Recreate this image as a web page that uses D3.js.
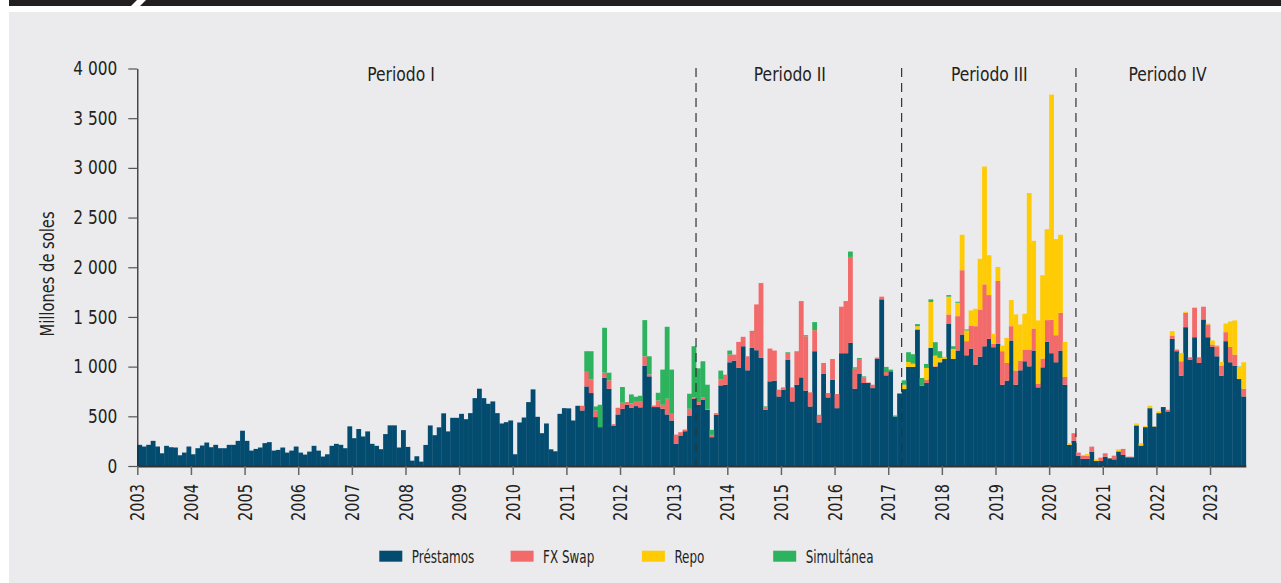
<!DOCTYPE html>
<html lang="es">
<head>
<meta charset="UTF-8">
<title>Operaciones de liquidez</title>
<script src="https://d3js.org/d3.v7.min.js"></script>
<style>
  body { margin: 0; background: #fff; }
  text { font-family: "Liberation Sans Narrow", "DejaVu Sans Condensed", "Roboto", sans-serif; fill: #231f20; }
</style>
</head>
<body>
<div id="chart"></div>
<script>
// monthly values, Jan 2003 - Aug 2023 (millones de soles)
var years = d3.range(2003, 2024);

var prestamos = [
  213,196,213,253,196,128,203,189,186,108,135,196,   // 2003
  118,179,206,236,189,213,179,179,213,213,253,355,   // 2004
  253,155,172,186,230,240,155,162,186,135,155,196,   // 2005
  135,115,145,203,155,95,118,203,223,213,179,399,    // 2006
  280,372,297,348,223,203,169,321,409,409,186,361,   // 2007
  192,54,98,44,212,408,310,389,530,348,485,485,      // 2008
  525,471,532,683,778,683,626,650,532,428,441,458,   // 2009
  118,438,488,643,771,495,330,428,168,148,525,582,   // 2010
  580,458,606,559,801,734,492,391,889,778,407,519,   // 2011
  576,616,586,603,590,1007,902,593,593,576,519,458,  // 2012
  222,307,350,508,677,616,665,566,290,515,811,818,   // 2013
  1044,1061,987,1205,963,1188,1165,1088,566,852,859,700, // 2014
  768,1071,650,818,892,758,599,1155,438,926,690,869, // 2015
  582,1135,1135,1239,778,926,835,835,784,1081,1677,912, // 2016
  953,498,727,774,997,997,1374,808,835,1189,997,1044, // 2017
  1077,1434,1077,1162,1323,1114,1182,1020,1100,1205,1279,1195, // 2018
  1229,818,859,1263,818,963,1054,1003,1162,791,993,1249, // 2019
  1135,1044,1162,818,212,253,104,71,71,145,50,50,    // 2020
  94,77,67,145,111,88,88,404,205,391,582,397,        // 2021
  532,593,549,1279,1155,909,1397,1071,1296,1037,1475,1296, // 2022
  1199,1104,909,1256,1044,1010,875,700               // 2023
];

var fxSwap = [
  0,0,0,0,0,0,0,0,0,0,0,0,  0,0,0,0,0,0,0,0,0,0,0,0,
  0,0,0,0,0,0,0,0,0,0,0,0,  0,0,0,0,0,0,0,0,0,0,0,0,
  0,0,0,0,0,0,0,0,0,0,0,0,  0,0,0,0,0,0,0,0,0,0,0,0,
  0,0,0,0,0,0,0,0,0,0,0,0,  0,0,0,0,0,0,0,0,0,0,0,0,   // 2003-2010
  0,0,0,47,155,138,67,0,50,84,14,67,                    // 2011
  60,27,44,43,63,97,21,16,67,40,158,67,                 // 2012
  94,33,17,68,13,27,25,6,23,17,58,101,                  // 2013
  77,60,262,95,141,162,461,747,27,330,303,68,           // 2014
  23,67,141,337,768,548,142,212,67,111,44,208,          // 2015
  142,468,525,865,202,151,57,5,34,10,27,34,             // 2016
  0,0,0,0,0,0,0,0,34,0,7,0,                             // 2017
  0,91,0,346,647,142,232,387,470,623,441,34,            // 2018
  633,337,178,144,142,98,118,169,222,37,88,219,         // 2019
  336,272,380,78,0,77,31,33,33,50,0,34,                 // 2020
  34,3,37,7,61,6,6,10,0,0,0,0,                          // 2021
  0,0,17,34,17,145,145,23,297,57,128,128,               // 2022
  23,101,101,91,155,111,0,78                            // 2023
];

var repo = [
  0,0,0,0,0,0,0,0,0,0,0,0,  0,0,0,0,0,0,0,0,0,0,0,0,
  0,0,0,0,0,0,0,0,0,0,0,0,  0,0,0,0,0,0,0,0,0,0,0,0,
  0,0,0,0,0,0,0,0,0,0,0,0,  0,0,0,0,0,0,0,0,0,0,0,0,
  0,0,0,0,0,0,0,0,0,0,0,0,  0,0,0,0,0,0,0,0,0,0,0,0,   // 2003-2010
  0,0,0,0,0,0,0,0,0,0,0,0,  0,0,0,0,0,0,0,0,0,0,0,0,
  0,0,0,0,0,0,0,0,0,0,0,0,  0,0,0,0,0,0,0,0,0,0,0,0,
  0,0,0,0,0,0,0,0,0,0,0,0,  0,0,0,0,0,0,0,0,0,0,0,0,   // 2011-2016
  0,0,0,44,50,33,33,0,118,461,107,44,                   // 2017
  21,179,101,135,357,108,152,175,515,1185,401,101,      // 2018
  141,57,253,263,565,363,360,1575,882,637,838,916,      // 2019
  2266,967,785,353,17,0,0,7,17,0,17,0,                  // 2020
  0,0,0,16,0,0,0,14,24,10,24,3,                         // 2021
  17,0,0,44,0,84,10,0,0,0,0,10,                         // 2022
  41,11,37,87,249,344,122,266                           // 2023
];

var simultanea = [
  0,0,0,0,0,0,0,0,0,0,0,0,  0,0,0,0,0,0,0,0,0,0,0,0,
  0,0,0,0,0,0,0,0,0,0,0,0,  0,0,0,0,0,0,0,0,0,0,0,0,
  0,0,0,0,0,0,0,0,0,0,0,0,  0,0,0,0,0,0,0,0,0,0,0,0,
  0,0,0,0,0,0,0,0,0,0,0,0,  0,0,0,0,0,0,0,0,0,0,0,0,   // 2003-2010
  0,0,0,0,199,283,40,225,452,77,0,0,                    // 2011
  159,0,90,51,54,364,181,0,77,354,724,445,              // 2012
  0,0,0,151,515,340,364,246,51,0,91,0,                  // 2013
  41,0,0,0,0,10,0,7,7,0,0,0,                            // 2014
  0,7,0,0,0,10,0,81,10,0,0,0,                           // 2015
  0,0,0,54,13,10,10,0,0,0,0,51,                         // 2016
  17,10,7,44,98,95,21,78,40,27,135,67,                  // 2017
  0,16,27,10,0,10,0,0,0,0,0,0,                          // 2018
  0,0,0,0,0,0,0,0,0,0,0,0,  0,0,0,0,0,0,0,0,0,0,0,0,
  0,0,0,0,0,0,0,0,0,0,0,0,  0,0,0,0,0,0,0,0,0,0,0,0,   // 2019-2022
  0,0,0,0,3,0,3,0                                       // 2023
];

var seriesNames = ["Préstamos", "FX Swap", "Repo", "Simultánea"];
var seriesColors = ["#034b6f", "#f26b6a", "#ffcb05", "#2db35e"];
var yTicks = [0, 500, 1000, 1500, 2000, 2500, 3000, 3500, 4000];

// periods: start month index, end month index, label position (month index)
var periods = [
  {name: "Periodo I",   start: 0,   end: 125, labelAt: 59},
  {name: "Periodo II",  start: 125, end: 171, labelAt: 146},
  {name: "Periodo III", start: 171, end: 210, labelAt: 190.6},
  {name: "Periodo IV",  start: 210, end: 248, labelAt: 230.5}
];

var n = prestamos.length;
var keys = ["p", "f", "r", "s"];
var table = d3.range(n).map(function(i) {
  return {i: i, p: prestamos[i], f: fxSwap[i], r: repo[i], s: simultanea[i]};
});

// the original uses a condensed face; squeeze the installed one to match
function condense(sel, f) {
  sel.each(function() {
    var len = this.getComputedTextLength();
    this.setAttribute("textLength", (len * f).toFixed(1));
    this.setAttribute("lengthAdjust", "spacingAndGlyphs");
  });
}

var W = 1281, H = 583;
var svg = d3.select("#chart").append("svg")
    .attr("width", W)
    .attr("height", H);

// frame
svg.append("rect").attr("x", 9).attr("y", 0).attr("width", W - 9).attr("height", 6).attr("fill", "#231f20");
svg.append("polygon").attr("points", "137,0 146,0 140,6 131,6").attr("fill", "#fff");
svg.append("rect").attr("x", 9).attr("y", 12).attr("width", W - 9).attr("height", H - 12).attr("fill", "#ebebee");

var x = d3.scaleBand()
    .domain(d3.range(n))
    .range([137.3, 1245.8])
    .padding(0);

var xi = d3.scaleLinear()
    .domain([0, n])
    .range([137.3, 1245.8]);

var y = d3.scaleLinear()
    .domain([0, 4000])
    .range([466, 68.5]);

//bars
var stacked = d3.stack().keys(keys)(table);

svg.append("g")
  .selectAll("g")
  .data(stacked)
  .enter()
  .append("g")
    .attr("fill", function(d, k) { return seriesColors[k]; })
  .selectAll("rect")
  .data(function(d) { return d; })
  .enter()
  .append("rect")
    .attr("x", function(d) { return x(d.data.i); })
    .attr("y", function(d) { return y(d[1]); })
    .attr("width", x.bandwidth() + 0.35)
    .attr("height", function(d) { return Math.max(0, y(d[0]) - y(d[1])); });

//y axis
var yAxis = svg.append("g")
    .attr("transform", "translate(137.3,0)")
    .call(d3.axisLeft(y)
      .tickValues(yTicks)
      .tickSize(9)
      .tickSizeOuter(0)
      .tickPadding(11)
      .tickFormat(function(d) { return d3.format(",")(d).replace(",", " "); }));
yAxis.select(".domain").attr("stroke", "#231f20").attr("stroke-width", 1.2);
yAxis.selectAll(".tick line").attr("stroke", "#555").attr("stroke-width", 1.2);
yAxis.selectAll("text").style("font-size", "19px").attr("fill", "#231f20");
condense(yAxis.selectAll("text"), 0.9);

//x axis
var xAxis = svg.append("g")
    .attr("transform", "translate(0,466)")
    .call(d3.axisBottom(xi)
      .tickValues(years.map(function(yr, k) { return k * 12; }))
      .tickSize(9)
      .tickSizeOuter(0)
      .tickFormat(function(d) { return years[d / 12]; }));
xAxis.select(".domain").attr("stroke", "#333").attr("stroke-width", 1.8);
xAxis.selectAll(".tick line").attr("stroke", "#666").attr("stroke-width", 1.5);
xAxis.selectAll("text")
    .style("font-size", "19px")
    .attr("fill", "#231f20")
    .attr("text-anchor", "end")
    .attr("transform", "translate(0,18) rotate(-90)")
    .attr("x", 0)
    .attr("y", 0)
    .attr("dy", "0.35em");
condense(xAxis.selectAll("text"), 0.85);

// periods
svg.append("g")
  .selectAll("line")
  .data(periods.slice(1))
  .enter()
  .append("line")
    .attr("x1", function(d) { return xi(d.start); })
    .attr("x2", function(d) { return xi(d.start); })
    .attr("y1", 68)
    .attr("y2", 466)
    .attr("stroke", "#333")
    .attr("stroke-width", 1.2)
    .attr("stroke-dasharray", "9,6");

var periodText = svg.append("g")
  .selectAll("text")
  .data(periods)
  .enter()
  .append("text")
    .attr("x", function(d) { return xi(d.labelAt); })
    .attr("y", 81)
    .attr("text-anchor", "middle")
    .style("font-size", "19px")
    .text(function(d) { return d.name; });
condense(periodText, 0.91);

// y title
var yTitle = svg.append("text")
    .attr("transform", "translate(54,274) rotate(-90)")
    .attr("text-anchor", "middle")
    .style("font-size", "19px")
    .text("Millones de soles");
condense(yTitle, 0.86);

// legend
var legend = svg.append("g")
  .selectAll("g")
  .data(seriesNames)
  .enter()
  .append("g")
    .attr("transform", function(d, k) { return "translate(" + (379.3 + k * 131.3) + ",550.7)"; });

legend.append("rect")
    .attr("width", 23)
    .attr("height", 11)
    .attr("fill", function(d, k) { return seriesColors[k]; });

var legendText = legend.append("text")
    .attr("x", 32.5)
    .attr("y", 5.5)
    .attr("dy", "0.36em")
    .style("font-size", "17.5px")
    .attr("fill", "#333")
    .text(function(d) { return d; });
condense(legendText, 0.76);
</script>
</body>
</html>
